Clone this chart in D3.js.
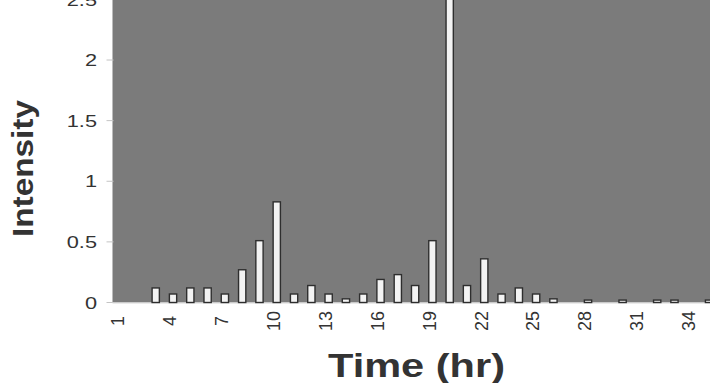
<!DOCTYPE html>
<html>
<head>
<meta charset="utf-8">
<script src="https://cdn.jsdelivr.net/npm/d3@7"></script>
<style>
  body { margin: 0; background: #fff; }
  svg { display: block; overflow: hidden; }
  text { font-family: Arial, "Liberation Sans", sans-serif; fill: #333; }
</style>
</head>
<body>
<svg id="chart"></svg>
<script>
let hours = d3.range(1, 37),
  intensity = [0, 0, 0.12, 0.07, 0.12, 0.12, 0.07, 0.27, 0.51, 0.83,
               0.07, 0.14, 0.07, 0.03, 0.07, 0.19, 0.23, 0.14, 0.51, 3.0,
               0.14, 0.36, 0.07, 0.12, 0.07, 0.03, 0, 0.02, 0, 0.02,
               0, 0.02, 0.02, 0, 0.02, 0],
  y_ticks = [0, 0.5, 1, 1.5, 2, 2.5],
  x_labels = [1, 4, 7, 10, 13, 16, 19, 22, 25, 28, 31, 34];

let width = 710,
  height = 383,
  plot = {left: 112.5, right: 735, base: 302.5};

let data = hours.map((h, i) => ({hour: h, value: intensity[i]}));

let x = d3.scaleBand()
  .domain(hours)
  .range([plot.left, plot.right])
  .paddingInner(0.58)
  .paddingOuter(0.29);

let y = d3.scaleLinear()
  .domain([0, 2.5])
  .range([plot.base, -0.6]);

let svg = d3.select("#chart")
  .attr("width", width)
  .attr("height", height);

// gray plot background
svg.append("rect")
  .attr("x", plot.left)
  .attr("y", -10)
  .attr("width", width - plot.left + 10)
  .attr("height", plot.base + 10)
  .attr("fill", "#7b7b7b");

// y axis ticks + labels
let yg = svg.append("g");
yg.selectAll("line")
  .data(y_ticks).enter()
  .append("line")
  .attr("x1", plot.left - 6)
  .attr("x2", plot.left + 1)
  .attr("y1", d => y(d))
  .attr("y2", d => y(d))
  .attr("stroke", "#c4c4c4")
  .attr("stroke-width", 1);

yg.selectAll("text")
  .data(y_ticks).enter()
  .append("text")
  .attr("transform", d => `translate(97, ${y(d)}) scale(1.28, 1)`)
  .attr("dy", "0.36em")
  .attr("text-anchor", "end")
  .attr("font-size", 17)
  .attr("fill", "#2b2b2b")
  .text(d => d);

// baseline
svg.append("line")
  .attr("x1", plot.left)
  .attr("x2", width)
  .attr("y1", plot.base + 0.5)
  .attr("y2", plot.base + 0.5)
  .attr("stroke", "#d8d8d8")
  .attr("stroke-width", 1.2);

// bars
svg.append("g")
  .selectAll("rect")
  .data(data.filter(d => d.value > 0)).enter()
  .append("rect")
  .attr("x", d => x(d.hour))
  .attr("width", x.bandwidth())
  .attr("y", d => y(d.value))
  .attr("height", d => y(0) - y(d.value))
  .attr("fill", "#f3f3f3")
  .attr("stroke", "#2e2e2e")
  .attr("stroke-width", 1.4);

// x labels, rotated
svg.append("g")
  .selectAll("text")
  .data(x_labels).enter()
  .append("text")
  .attr("transform", d => `translate(${x(d) + x.bandwidth() / 2 - 3}, 321) rotate(-90)`)
  .attr("dy", "0.35em")
  .attr("text-anchor", "middle")
  .attr("font-size", 18)
  .attr("fill", "#2b2b2b")
  .text(d => d);

// axis titles
svg.append("text")
  .attr("x", 328)
  .attr("y", 377)
  .attr("font-size", 33)
  .attr("font-weight", "bold")
  .attr("textLength", 177)
  .attr("lengthAdjust", "spacingAndGlyphs")
  .text("Time (hr)");

svg.append("text")
  .attr("transform", "translate(33, 237) rotate(-90)")
  .attr("font-size", 29)
  .attr("font-weight", "bold")
  .attr("textLength", 137)
  .attr("lengthAdjust", "spacingAndGlyphs")
  .text("Intensity");
</script>
</body>
</html>
